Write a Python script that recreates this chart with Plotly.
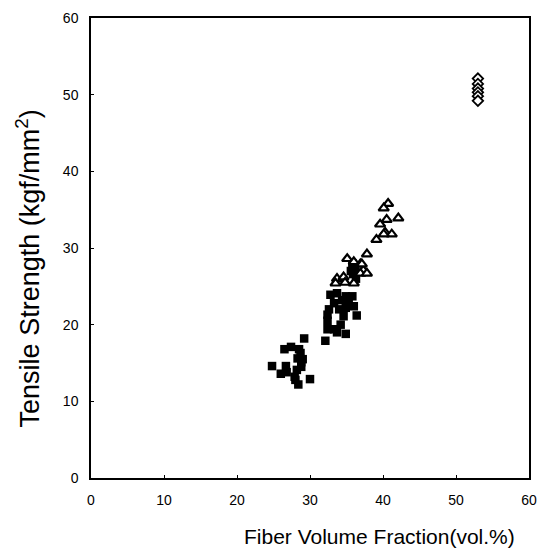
import plotly.graph_objects as go

# Filled squares
sq_x = [29.2, 26.5, 27.4, 28.7, 28.3, 28.8, 24.8, 26.7, 26.0, 28.2, 27.9, 30.0, 28.4,
        28.5, 28.8, 28.0, 26.8, 29.0,
        32.8, 33.7, 34.9, 35.8, 33.3, 34.4, 35.3, 36.0, 32.6, 34.0, 34.9, 32.4, 36.4,
        34.6, 32.4, 34.2, 32.4, 33.3, 33.7, 34.9, 32.1,
        35.8, 36.2, 35.9, 36.3, 35.6]
sq_y = [18.2, 16.8, 17.1, 16.3, 15.6, 15.1, 14.6, 14.6, 13.6, 14.1, 13.2, 12.9, 12.2,
        16.8, 14.5, 12.8, 13.8, 15.5,
        23.9, 24.1, 23.7, 23.7, 22.8, 23.2, 22.8, 22.4, 22.0, 22.0, 22.2, 21.3, 21.2,
        21.1, 20.5, 20.0, 19.4, 19.4, 19.0, 18.8, 17.9,
        28.0, 27.3, 26.6, 26.0, 27.0]

# Open triangles
tri_x = [40.7, 40.1, 40.5, 42.1, 39.6, 40.3, 41.2, 40.1, 39.1,
         35.1, 37.8, 36.0, 36.9, 37.3, 36.9, 37.8, 33.7, 34.6, 33.5, 34.8, 36.0, 37.1]
tri_y = [35.8, 35.2, 33.7, 33.9, 33.1, 32.0, 31.8, 31.8, 31.1,
         28.6, 29.2, 28.2, 27.9, 27.1, 26.7, 26.7, 26.0, 26.2, 25.4, 25.5, 25.4, 27.9]

# Open diamonds
dia_x = [53.0, 53.0, 53.0, 53.0, 53.0, 53.0]
dia_y = [52.1, 51.4, 50.8, 50.3, 49.8, 49.2]

x_ticks = [0, 10, 20, 30, 40, 50, 60]
y_ticks = [0, 10, 20, 30, 40, 50, 60]

fig = go.Figure()
fig.add_trace(go.Scatter(x=sq_x, y=sq_y, mode="markers",
                         marker=dict(symbol="square", size=8.5, color="black",
                                     line=dict(width=0))))
fig.add_trace(go.Scatter(x=tri_x, y=tri_y, mode="markers",
                         marker=dict(symbol="triangle-up", size=9, color="white",
                                     line=dict(width=2.2, color="black"))))
fig.add_trace(go.Scatter(x=dia_x, y=dia_y, mode="markers",
                         marker=dict(symbol="diamond", size=8, color="white",
                                     line=dict(width=1.8, color="black"))))

axis_common = dict(showline=True, linecolor="black", linewidth=1.5, mirror=True,
                   showgrid=False, zeroline=False, ticks="inside", ticklen=3,
                   tickcolor="black", tickwidth=1,
                   tickfont=dict(family="Liberation Sans", size=14, color="black"))

fig.update_xaxes(range=[0, 60], tickvals=x_ticks, ticktext=[str(v) for v in x_ticks],
                 ticklabelstandoff=8, **axis_common)
fig.update_yaxes(range=[0, 60], tickvals=y_ticks, ticktext=[str(v) for v in y_ticks],
                 ticklabelstandoff=8, **axis_common)

fig.add_annotation(text="Fiber Volume Fraction(vol.%)", xref="paper", yref="paper",
                   x=0.659, y=-0.128, xanchor="center", yanchor="middle", showarrow=False,
                   font=dict(family="Liberation Sans", size=21, color="black"))
fig.add_annotation(text="Tensile Strength (kgf/mm<sup>2</sup>)", xref="paper", yref="paper",
                   x=-0.1445, y=0.455, xanchor="center", yanchor="middle", showarrow=False,
                   textangle=-90,
                   font=dict(family="Liberation Sans", size=27, color="black"))

fig.update_layout(width=547, height=553, showlegend=False,
                  margin=dict(l=91, r=13, t=10, b=75),
                  paper_bgcolor="white", plot_bgcolor="white")

fig.write_html("out.html", config={"displayModeBar": False},
               post_script="document.body.style.margin='0';document.body.style.overflow='hidden';")
